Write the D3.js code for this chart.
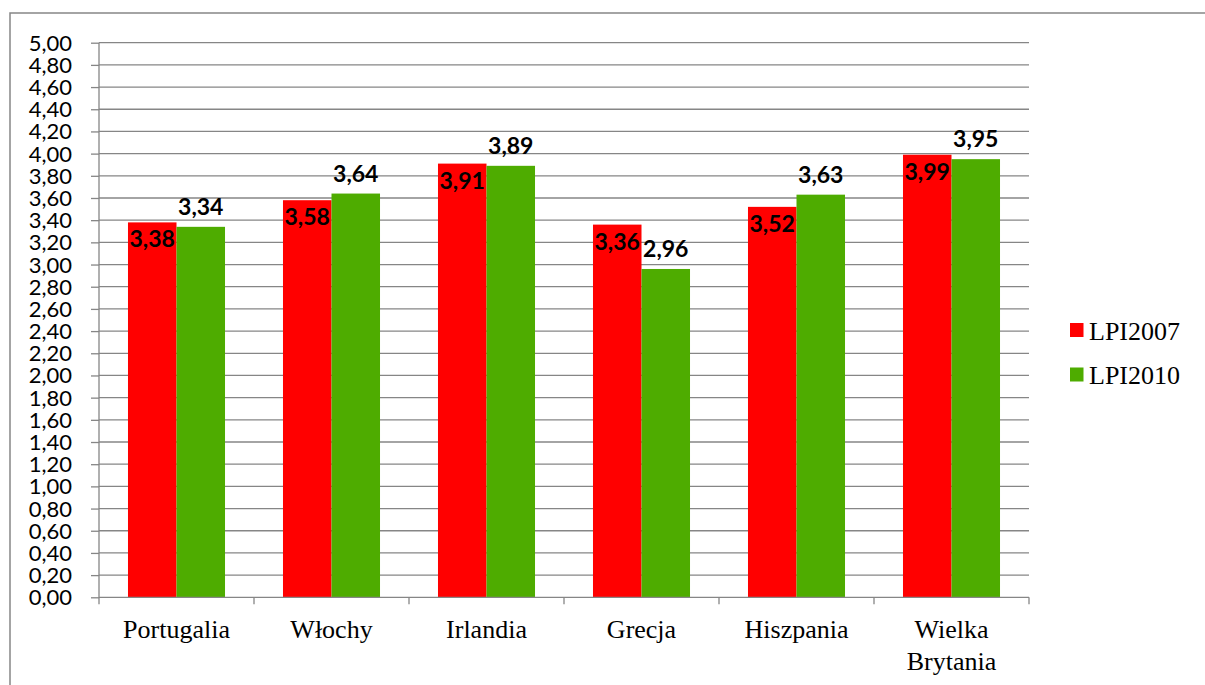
<!DOCTYPE html>
<html>
<head>
<meta charset="utf-8">
<script src="https://cdn.jsdelivr.net/npm/d3@7"></script>
<style>
  body { margin: 0; background: #fff; }
  svg { display: block; }
</style>
</head>
<body>
<div id="chart"></div>
<script>
// data
var countries = ['Portugalia', 'Włochy', 'Irlandia', 'Grecja', 'Hiszpania', 'Wielka Brytania']
var seriesNames = ['LPI2007', 'LPI2010']
var lpi2007 = [3.38, 3.58, 3.91, 3.36, 3.52, 3.99]
var lpi2010 = [3.34, 3.64, 3.89, 2.96, 3.63, 3.95]
var yTicks = d3.range(0, 26).map(function(i) { return i * 0.2 })

var colors = { LPI2007: '#ff0000', LPI2010: '#4eac00' }
var grey = '#868686'

var width = 1205
var height = 685

// plot area bounds (window.top is reserved, so no plain "top")
var pLeft = 99, pRight = 1029, pTop = 42.7, pBottom = 597.3

var rows = countries.map(function(c, i) {
  return { name: c, LPI2007: lpi2007[i], LPI2010: lpi2010[i] }
})

var svg = d3.select('#chart').append('svg').attr('width', width).attr('height', height)

// outer frame
svg.append('rect').attr('x', 10).attr('y', 13).attr('width', 1210).attr('height', 700)
  .attr('fill', 'none').attr('stroke', grey).attr('stroke-width', 1.5)

var x0 = d3.scaleBand().domain(countries).range([pLeft, pRight]).paddingInner(0.374).paddingOuter(0.187)
var x1 = d3.scaleBand().domain(seriesNames).range([0, x0.bandwidth()])
var y = d3.scaleLinear().domain([0, 5]).range([pBottom, pTop])

var fmt = function(v) { return d3.format('.2f')(v).replace('.', ',') }

// gridlines
svg.append('g').selectAll('line').data(yTicks.slice(1)).join('line')
  .attr('x1', pLeft).attr('x2', pRight)
  .attr('y1', d => y(d)).attr('y2', d => y(d))
  .attr('stroke', grey).attr('stroke-width', 1.3)

// y axis
var yAxis = svg.append('g').attr('transform', 'translate(' + pLeft + ',0)')
  .call(d3.axisLeft(y).tickValues(yTicks).tickFormat(fmt).tickSize(8).tickPadding(19))
yAxis.select('.domain').attr('stroke', grey).attr('stroke-width', 1.3).attr('d', 'M0,' + pTop + 'V' + pBottom)
yAxis.selectAll('.tick line').attr('stroke', grey).attr('stroke-width', 1.3)
yAxis.selectAll('.tick text').attr('fill', '#000').style('font-family', 'Lato').style('font-size', '22px')
  .attr('dy', '0.34em')

// bars
var groups = svg.append('g').selectAll('g').data(rows).join('g')
  .attr('transform', d => 'translate(' + x0(d.name) + ',0)')

groups.selectAll('rect').data(d => seriesNames.map(k => ({ key: k, value: d[k] }))).join('rect')
  .attr('x', d => x1(d.key))
  .attr('y', d => y(d.value))
  .attr('width', x1.bandwidth())
  .attr('height', d => y(0) - y(d.value))
  .attr('fill', d => colors[d.key])

// x axis (drawn over bars)
var xAxis = svg.append('g').attr('transform', 'translate(0,' + pBottom + ')')
xAxis.append('line').attr('x1', pLeft).attr('x2', pRight).attr('stroke', grey).attr('stroke-width', 1.3)
var bounds = countries.map(c => x0(c) - x0.step() * x0.paddingOuter()).concat([pRight])
xAxis.selectAll('line.tk').data(bounds).join('line').attr('class', 'tk')
  .attr('x1', d => d).attr('x2', d => d).attr('y1', 0).attr('y2', 7)
  .attr('stroke', grey).attr('stroke-width', 1.3)

var catLabels = xAxis.selectAll('text').data(countries).join('text')
  .attr('x', d => x0(d) + x0.bandwidth() / 2)
  .attr('y', 41)
  .attr('text-anchor', 'middle')
  .style('font-family', 'Liberation Serif').style('font-size', '26px').attr('fill', '#000')
catLabels.each(function(d) {
  var words = d.split(' ')
  var t = d3.select(this)
  words.forEach(function(w, i) {
    t.append('tspan').attr('x', x0(d) + x0.bandwidth() / 2).attr('dy', i ? 31.5 : 0).text(w)
  })
})

// value labels
groups.selectAll('text').data(d => seriesNames.map(k => ({ key: k, value: d[k] }))).join('text')
  .attr('x', d => x1(d.key) + x1.bandwidth() / 2)
  .attr('y', d => d.key == 'LPI2007' ? y(d.value) + 25 : y(d.value) - 12)
  .attr('text-anchor', 'middle')
  .style('font-family', 'Lato').style('font-weight', 'bold').style('font-size', '23px')
  .attr('fill', '#000')
  .text(d => fmt(d.value))

// legend
var legend = svg.append('g').selectAll('g').data(seriesNames).join('g')
  .attr('transform', (d, i) => 'translate(1070,' + (323 + i * 44.5) + ')')
legend.append('rect').attr('width', 13.5).attr('height', 14).attr('fill', d => colors[d])
legend.append('text').attr('x', 19).attr('y', 16.5)
  .style('font-family', 'Liberation Serif').style('font-size', '26px').attr('fill', '#000')
  .text(d => d)
</script>
</body>
</html>
